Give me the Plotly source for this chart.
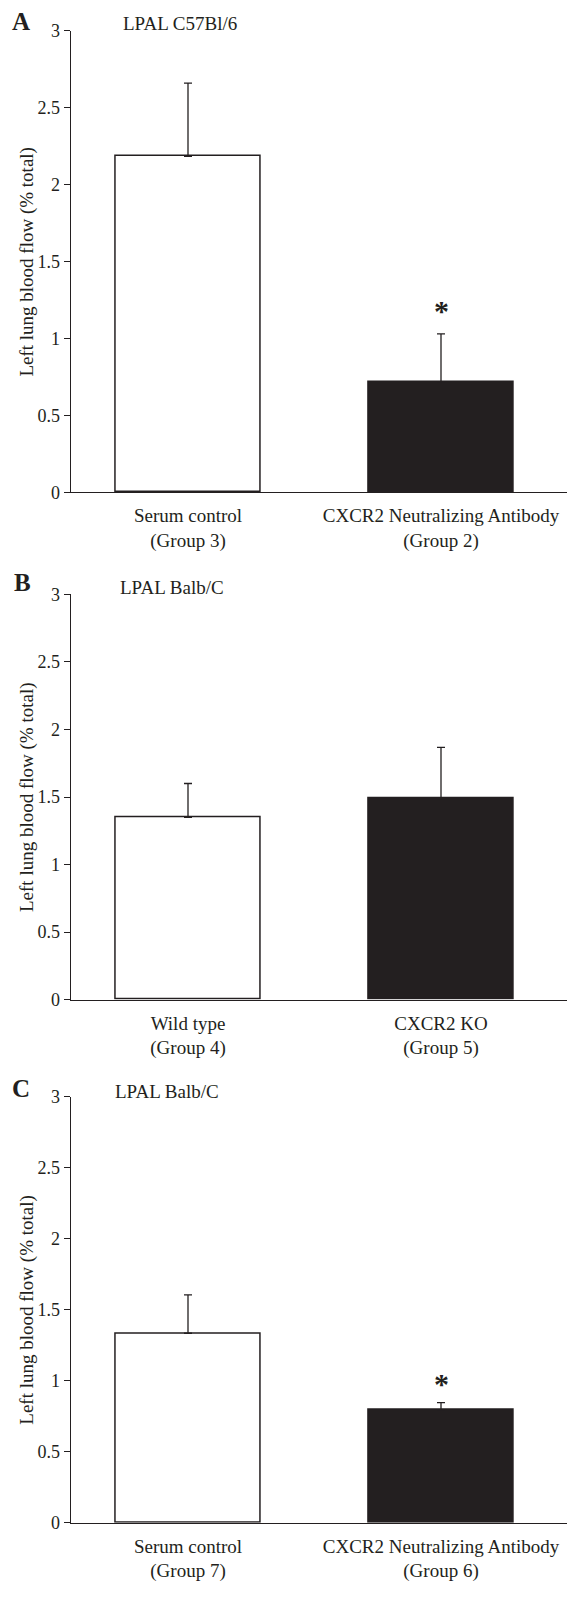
import plotly.graph_objects as go

# ---------------- data ----------------
cats_A = ["Serum control<br>(Group 3)", "CXCR2 Neutralizing Antibody<br>(Group 2)"]
vals_A = [2.185, 0.72]
errs_A = [0.475, 0.31]
title_A = "LPAL C57Bl/6"

cats_B = ["Wild type<br>(Group 4)", "CXCR2 KO<br>(Group 5)"]
vals_B = [1.35, 1.487]
errs_B = [0.25, 0.38]
title_B = "LPAL Balb/C"

cats_C = ["Serum control<br>(Group 7)", "CXCR2 Neutralizing Antibody<br>(Group 6)"]
vals_C = [1.334, 0.794]
errs_C = [0.27, 0.051]
title_C = "LPAL Balb/C"

sig_A = [False, True]
sig_B = [False, False]
sig_C = [False, True]

y_ticks = [0, 0.5, 1, 1.5, 2, 2.5, 3]
y_title = "Left lung blood flow (% total)"
panel_letters = ["A", "B", "C"]

# ---------------- styling / layout ----------------
W, H = 567, 1601
INK = "#231f20"
FONT = "Liberation Serif"
bar_colors = ["white", INK]
pos = [0, 1]

# pixel geometry (y of value 0 and value 3 for each panel)
panels_px = [(492.3, 30.9), (999.7, 594.3), (1522.7, 1096.7)]
x_left_px, x_right_px = 70.7, 567
px_per_unit = 253.0
c0 = 188.0
xr = [(x_left_px - c0) / px_per_unit, (x_right_px - c0) / px_per_unit]
mid_tick = (297.6 - c0) / px_per_unit

fig = go.Figure()
layout = dict(
    width=W, height=H,
    autosize=False,
    margin=dict(l=0, r=0, t=0, b=0, pad=0, autoexpand=False),
    paper_bgcolor="white", plot_bgcolor="white",
    showlegend=False,
    font=dict(family=FONT, size=18, color=INK),
    bargap=0,
)

datasets = [(cats_A, vals_A, errs_A, title_A, sig_A, 23),
            (cats_B, vals_B, errs_B, title_B, sig_B, 23),
            (cats_C, vals_C, errs_C, title_C, sig_C, 19)]
title_px = [(120.7, 23.8), (117.5, 587.5), (113.2, 1091.3)]
letter_px = [(10, 21.5), (12, 582.5), (10, 1088.7)]

annotations = []
for i, (cats, vals, errs, ttl, sig, star_shift) in enumerate(datasets):
    n = i + 1
    xa = "x" if n == 1 else f"x{n}"
    ya = "y" if n == 1 else f"y{n}"
    y0px, y3px = panels_px[i]
    dom = [1 - y0px / H, 1 - y3px / H]
    xdom = [x_left_px / W, 1.0]

    fig.add_trace(go.Bar(
        x=pos, y=vals, width=0.573,
        marker=dict(color=bar_colors, line=dict(color=INK, width=1.5)),
        error_y=dict(type="data", array=errs, arrayminus=[0] * len(errs),
                     symmetric=False, color=INK, thickness=1.3, width=4),
        xaxis=xa, yaxis=ya, hoverinfo="skip",
    ))

    layout[f"xaxis{'' if n == 1 else n}"] = dict(
        domain=xdom, anchor=ya, range=xr, automargin=False,
        tickvals=pos, ticktext=cats, ticks="",
        showline=True, linecolor=INK, linewidth=1.3,
        showgrid=False, zeroline=False,
        tickfont=dict(family=FONT, size=19, color=INK),
        ticklabelstandoff=6,
    )
    layout[f"yaxis{'' if n == 1 else n}"] = dict(
        domain=dom, anchor=xa, range=[0, 3], automargin=False,
        tickvals=y_ticks, ticktext=[f"{v:g}" for v in y_ticks],
        ticks="outside", ticklen=6, tickwidth=1.3, tickcolor=INK,
        showline=True, linecolor=INK, linewidth=1.3,
        showgrid=False, zeroline=False,
        tickfont=dict(family=FONT, size=18, color=INK),
    )
    # overlay axis only for the category-boundary tick marks
    k = n + 3
    layout[f"xaxis{k}"] = dict(
        overlaying=xa, anchor=ya, range=xr, automargin=False,
        tickvals=[xr[0], mid_tick], ticks="outside", ticklen=5,
        tickwidth=1.3, tickcolor=INK, showticklabels=False,
        showline=False, showgrid=False, zeroline=False,
    )

    # y title
    annotations.append(dict(
        text=y_title, textangle=-90, xref="paper", yref="paper",
        x=27 / W, y=(dom[0] + dom[1]) / 2, xanchor="center", yanchor="middle",
        showarrow=False, font=dict(family=FONT, size=19, color=INK),
    ))
    # panel title
    tx, ty = title_px[i]
    annotations.append(dict(
        text=ttl, xref="paper", yref="paper", x=tx / W, y=1 - ty / H,
        xanchor="left", yanchor="middle", showarrow=False,
        font=dict(family=FONT, size=19, color=INK),
    ))
    # panel letter
    lx, ly = letter_px[i]
    annotations.append(dict(
        text=f"<b>{panel_letters[i]}</b>", xref="paper", yref="paper",
        x=lx / W, y=1 - ly / H, xanchor="left", yanchor="middle",
        showarrow=False, font=dict(family=FONT, size=25, color=INK),
    ))
    # significance stars
    for j, s in enumerate(sig):
        if s:
            annotations.append(dict(
                text="<b>*</b>", xref=xa, yref=ya, x=pos[j], y=vals[j] + errs[j],
                xanchor="center", yanchor="middle", yshift=star_shift,
                showarrow=False, font=dict(family=FONT, size=30, color=INK),
            ))

layout["annotations"] = annotations
fig.update_layout(**layout)
fig.write_html(
    "out.html",
    config={"displayModeBar": False},
    post_script="document.body.style.margin='0px';document.body.style.overflow='hidden';",
)
